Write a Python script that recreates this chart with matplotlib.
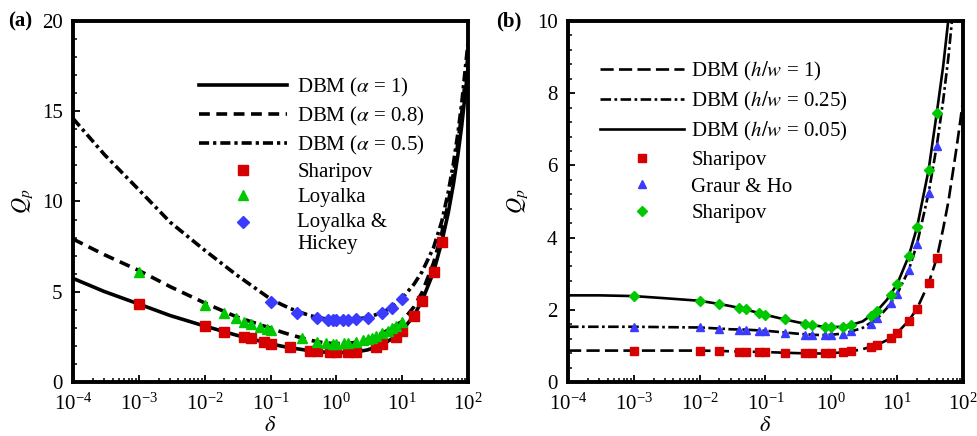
import matplotlib
matplotlib.use("Agg")
import matplotlib.pyplot as plt
from matplotlib.ticker import FixedLocator, LogLocator, MultipleLocator, NullFormatter
from matplotlib.legend_handler import HandlerLine2D

plt.rcParams['font.family'] = ['Liberation Serif', 'DejaVu Serif']
plt.rcParams['mathtext.fontset'] = 'stix'

# ---------------- panel (a): effect of accommodation coefficient ----------------
a_delta_curve = [1e-4, 3e-4, 1e-3, 3e-3, 1e-2, 3e-2, 0.1, 0.15, 0.2, 0.3, 0.4, 0.5, 0.7, 1, 1.5, 2,
                 3, 5, 7, 10, 15, 20, 30, 40, 50, 60, 70, 80, 100]
a_dbm_alpha1 = [5.74, 5.01, 4.32, 3.68, 3.10, 2.60, 2.12, 1.98, 1.90, 1.80, 1.73, 1.69, 1.65, 1.63, 1.63, 1.67,
                1.78, 2.07, 2.40, 2.85, 3.67, 4.49, 6.10, 7.77, 9.35, 10.95, 12.55, 14.15, 17.4]
a_dbm_alpha08 = [7.92, 7.05, 6.18, 5.28, 4.38, 3.62, 2.98, 2.76, 2.62, 2.44, 2.32, 2.24, 2.16, 2.13, 2.14, 2.20,
                 2.36, 2.70, 3.00, 3.36, 4.15, 4.95, 6.60, 8.25, 9.90, 11.55, 13.2, 14.85, 18.1]
a_dbm_alpha05 = [14.6, 12.6, 10.65, 8.85, 7.30, 5.95, 4.60, 4.28, 4.07, 3.83, 3.68, 3.59, 3.49, 3.44, 3.44, 3.48,
                 3.58, 3.85, 4.15, 4.65, 5.40, 6.10, 7.45, 8.90, 10.5, 12.1, 13.75, 15.4, 18.8]

a_sharipov_delta = [1e-3, 1e-2, 2e-2, 4e-2, 5e-2, 8e-2, 0.1, 0.2, 0.4, 0.5, 0.8, 1, 1.5, 2,
                    4, 5, 8, 10, 15, 20, 30, 40]
a_sharipov_qp = [4.32, 3.10, 2.79, 2.51, 2.42, 2.20, 2.10, 1.92, 1.74, 1.70, 1.64, 1.64, 1.64, 1.68,
                 1.92, 2.10, 2.47, 2.84, 3.67, 4.49, 6.11, 7.77]

a_loyalka_delta = [1e-3, 1e-2, 2e-2, 3e-2, 4e-2, 5e-2, 7e-2, 9e-2, 0.1, 0.3, 0.5, 0.7, 0.9, 1.0,
                   1.3, 1.5, 2, 2.5, 3, 3.5, 4, 5, 6, 7, 8, 10]
a_loyalka_qp = [6.08, 4.27, 3.80, 3.56, 3.34, 3.21, 3.07, 2.94, 2.88, 2.42, 2.20, 2.15, 2.13, 2.13,
                2.14, 2.16, 2.22, 2.30, 2.38, 2.46, 2.55, 2.70, 2.85, 3.00, 3.12, 3.34]

a_lh_delta = [0.1, 0.25, 0.5, 0.75, 0.9, 1.0, 1.25, 1.5, 2, 3, 5, 7, 10]
a_lh_qp = [4.45, 3.85, 3.57, 3.45, 3.43, 3.43, 3.43, 3.43, 3.47, 3.56, 3.82, 4.12, 4.58]

# ---------------- panel (b): effect of aspect ratio ----------------
b_delta_curve = [1e-4, 3e-4, 1e-3, 3e-3, 1e-2, 2e-2, 3e-2, 5e-2, 0.1, 0.2, 0.3, 0.5, 0.7, 1,
                 1.5, 2, 3, 5, 7, 10, 15, 20, 30, 40, 50, 60, 70, 80, 90, 100]
b_dbm_hw1 = [0.87, 0.87, 0.87, 0.87, 0.87, 0.86, 0.85, 0.84, 0.83, 0.81, 0.80, 0.79, 0.79, 0.80,
             0.82, 0.85, 0.91, 1.03, 1.16, 1.36, 1.70, 2.03, 2.73, 3.43, 4.25, 5.00, 5.80, 6.50, 7.17, 7.80]
b_dbm_hw025 = [1.53, 1.53, 1.53, 1.52, 1.51, 1.48, 1.46, 1.45, 1.42, 1.37, 1.34, 1.31, 1.30, 1.31,
               1.34, 1.40, 1.50, 1.76, 2.05, 2.44, 3.10, 3.82, 5.23, 6.55, 7.80, 9.00, 10.25, 11.5, 12.7, 14.0]
b_dbm_hw005 = [2.40, 2.40, 2.38, 2.32, 2.25, 2.16, 2.10, 2.01, 1.86, 1.73, 1.66, 1.58, 1.54, 1.52,
               1.53, 1.58, 1.68, 1.98, 2.28, 2.71, 3.49, 4.28, 5.87, 7.46, 8.75, 10.05, 11.3, 12.6, 13.9, 15.2]

b_ref_delta = [1e-3, 1e-2, 2e-2, 4e-2, 5e-2, 8e-2, 0.1, 0.2, 0.4, 0.5, 0.8, 1, 1.5, 2,
               4, 5, 8, 10, 15, 20, 30, 40]
b_sharipov_sq = [0.87, 0.87, 0.86, 0.84, 0.84, 0.83, 0.83, 0.81, 0.79, 0.79, 0.80, 0.80, 0.82, 0.85,
                 0.97, 1.02, 1.22, 1.35, 1.70, 2.03, 2.73, 3.43]
b_graur_ho = [1.53, 1.51, 1.48, 1.45, 1.45, 1.42, 1.42, 1.36, 1.31, 1.31, 1.31, 1.31, 1.34, 1.40,
              1.62, 1.76, 2.18, 2.44, 3.10, 3.82, 5.23, 6.55]
b_sharipov_dm = [2.38, 2.25, 2.16, 2.06, 2.01, 1.90, 1.86, 1.74, 1.62, 1.58, 1.53, 1.53, 1.53, 1.58,
                 1.83, 1.98, 2.41, 2.71, 3.49, 4.28, 5.87, 7.46]

x_major_ticks = [1e-4, 1e-3, 1e-2, 1e-1, 1e0, 1e1, 1e2]

RED = '#d60000'
GREEN = '#00c800'
BLUE = '#3b3bff'
FS = 15


class FirstLineHandler(HandlerLine2D):
    """Legend handler that lifts the marker to the first line of a two-line label."""

    def __init__(self, lift, **kw):
        super().__init__(**kw)
        self.lift = lift

    def create_artists(self, legend, orig_handle, xdescent, ydescent, width, height, fontsize, trans):
        artists = super().create_artists(legend, orig_handle, xdescent, ydescent,
                                         width, height, fontsize, trans)
        for art in artists:
            art.set_ydata([y + self.lift for y in art.get_ydata()])
        return artists


fig = plt.figure(figsize=(9.77, 4.36), dpi=100)
ax_a = fig.add_axes([73 / 977, 54 / 436, 395 / 977, 361 / 436])
ax_b = fig.add_axes([568 / 977, 54 / 436, 395 / 977, 361 / 436])


def style_axis(ax, ymax, ymajor, yminor):
    ax.set_xscale('log')
    ax.set_xlim(1e-4, 1e2)
    ax.set_ylim(0, ymax)
    ax.xaxis.set_major_locator(FixedLocator(x_major_ticks))
    ax.xaxis.set_minor_locator(LogLocator(base=10, subs=range(2, 10), numticks=20))
    ax.xaxis.set_minor_formatter(NullFormatter())
    ax.yaxis.set_major_locator(MultipleLocator(ymajor))
    ax.yaxis.set_minor_locator(MultipleLocator(yminor))
    ax.tick_params(which='both', direction='in', top=False, right=False, labelsize=FS)
    ax.tick_params(which='major', length=5, width=1.3)
    ax.tick_params(axis='x', which='major', pad=8.5)
    ax.tick_params(axis='y', which='major', pad=7.5)
    ax.tick_params(which='minor', length=3, width=1.1)
    for sp in ax.spines.values():
        sp.set_linewidth(2.8)
    ax.set_xlabel(r'$\delta$', fontsize=FS + 1, labelpad=1.5)
    ax.set_ylabel(r'$Q_p$', fontsize=FS + 1, labelpad=5)


# panel (a)
lw_a = 2.6
ax_a.plot(a_delta_curve, a_dbm_alpha1, color='k', lw=lw_a, label=r'DBM ($\alpha$ = 1)')
ax_a.plot(a_delta_curve, a_dbm_alpha08, color='k', lw=lw_a, dashes=(3.0, 1.8),
          label=r'DBM ($\alpha$ = 0.8)')
ax_a.plot(a_delta_curve, a_dbm_alpha05, color='k', lw=lw_a, dashes=(2.8, 1.1, 0.9, 1.1),
          label=r'DBM ($\alpha$ = 0.5)')
ax_a.plot(a_sharipov_delta, a_sharipov_qp, 's', color=RED, ms=6.8, mec=RED, label='Sharipov', zorder=5)
ax_a.plot(a_loyalka_delta, a_loyalka_qp, '^', color=GREEN, ms=7.5, mec=GREEN, label='Loyalka', zorder=5)
lh_line, = ax_a.plot(a_lh_delta, a_lh_qp, 'D', color=BLUE, ms=5.8, mec=BLUE,
                     label='Loyalka &\nHickey', zorder=5)
style_axis(ax_a, 20, 5, 1)
ax_a.legend(loc='upper left', bbox_to_anchor=(0.32, 0.848), frameon=False, fontsize=FS,
            handlelength=4.2, handletextpad=0.5, labelspacing=0.28, borderpad=0, borderaxespad=0,
            numpoints=1, handler_map={lh_line: FirstLineHandler(8.0)})

# panel (b)
lw_b = 1.9
ax_b.plot(b_delta_curve, b_dbm_hw1, color='k', lw=lw_b, dashes=(5.0, 2.0), label=r'DBM ($h/w$ = 1)')
ax_b.plot(b_delta_curve, b_dbm_hw025, color='k', lw=lw_b, dashes=(4.0, 1.3, 1.0, 1.3),
          label=r'DBM ($h/w$ = 0.25)')
ax_b.plot(b_delta_curve, b_dbm_hw005, color='k', lw=lw_b, label=r'DBM ($h/w$ = 0.05)')
ax_b.plot(b_ref_delta, b_sharipov_sq, 's', color=RED, ms=5.2, mec=RED, label='Sharipov', zorder=5)
ax_b.plot(b_ref_delta, b_graur_ho, '^', color=BLUE, ms=6.0, mec=BLUE, label='Graur & Ho', zorder=5)
ax_b.plot(b_ref_delta, b_sharipov_dm, 'D', color=GREEN, ms=4.8, mec=GREEN, label='Sharipov', zorder=5)
style_axis(ax_b, 10, 2, 0.4)
ax_b.legend(loc='upper left', bbox_to_anchor=(0.08, 0.892), frameon=False, fontsize=FS,
            handlelength=4.05, handletextpad=0.35, labelspacing=0.34, borderpad=0, borderaxespad=0,
            numpoints=1)

fig.text(8 / 977, 1 - 21 / 436, '(a)', fontsize=FS, fontweight='bold', va='center', ha='left')
fig.text(496 / 977, 1 - 21 / 436, '(b)', fontsize=FS, fontweight='bold', va='center', ha='left')

fig.savefig('out.png', dpi=100)
